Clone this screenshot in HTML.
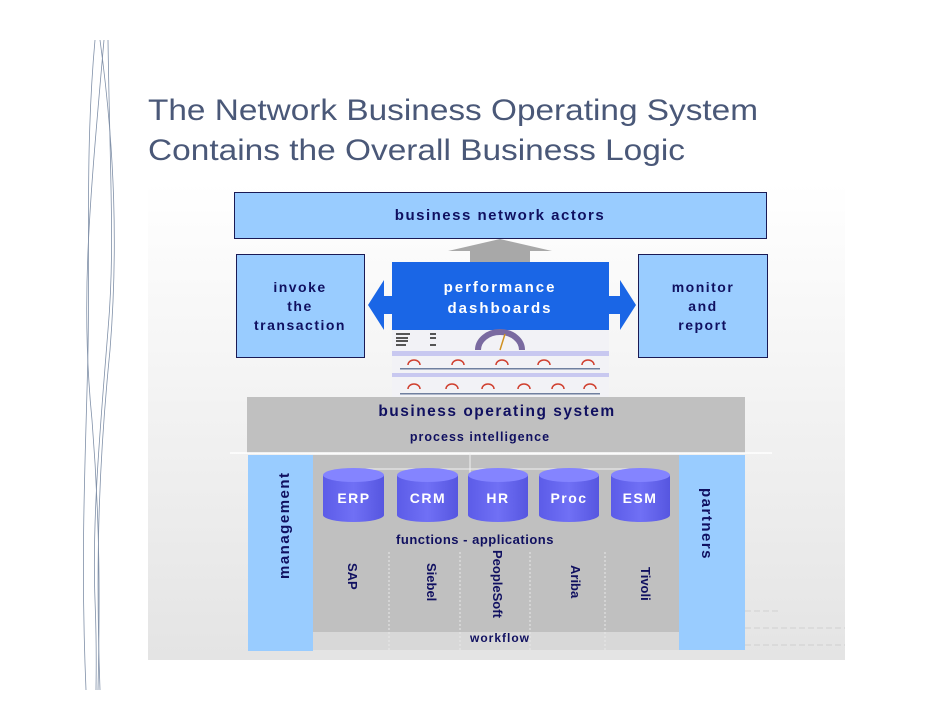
<!DOCTYPE html>
<html><head><meta charset="utf-8"><style>
html,body{margin:0;padding:0;background:#fff;}
svg{display:block;font-family:"Liberation Sans",sans-serif;}
</style></head><body>
<svg width="942" height="728" viewBox="0 0 942 728" xmlns="http://www.w3.org/2000/svg">
<defs>
<linearGradient id="bg" x1="0" y1="0" x2="0" y2="1">
<stop offset="0" stop-color="#ffffff"/><stop offset="1" stop-color="#e4e4e4"/></linearGradient>
<linearGradient id="cyl" x1="0" y1="0" x2="1" y2="0">
<stop offset="0" stop-color="#5c5ce8"/><stop offset="0.5" stop-color="#7070f5"/><stop offset="1" stop-color="#5656e0"/></linearGradient>
</defs>
<!-- decorative lines -->
<g fill="none" stroke="#8090a8" stroke-width="0.8">
<path d="M95 40 C85 150,90 250,88 350 C86 450,80 550,86 690"/>
<path d="M100 40 C115 150,118 250,110 350 C100 450,95 550,100 690"/>
<path d="M104 40 C90 200,80 300,92 420 C100 520,100 600,98 690"/>
<path d="M108 40 C110 180,115 250,108 330 C100 430,92 520,95 600 C97 650,96 680,96 690"/>
</g>
<!-- title -->
<g fill="#4a5878" font-size="30">
<text x="148" y="120" textLength="610" lengthAdjust="spacingAndGlyphs">The Network Business Operating System</text>
<text x="148" y="160" textLength="537" lengthAdjust="spacingAndGlyphs">Contains the Overall Business Logic</text>
</g>
<rect x="148" y="183" width="697" height="477" fill="url(#bg)"/>
<!-- top box -->
<rect x="234.5" y="192.5" width="532" height="46" fill="#99ccff" stroke="#1a1a55"/>
<text x="500" y="220" text-anchor="middle" font-size="15" font-weight="bold" fill="#101060" letter-spacing="1.5">business network actors</text>
<!-- gray arrow -->
<polygon points="448,251 500,239 552,251 530,251 530,263 470,263 470,251" fill="#a8a8a8"/>
<!-- side boxes -->
<rect x="236.5" y="254.5" width="128" height="103" fill="#99ccff" stroke="#1a1a55"/>
<g font-size="14" font-weight="bold" fill="#101060" text-anchor="middle" letter-spacing="1.5">
<text x="300" y="292">invoke</text><text x="300" y="311">the</text><text x="300" y="330">transaction</text>
</g>
<rect x="638.5" y="254.5" width="129" height="103" fill="#99ccff" stroke="#1a1a55"/>
<g font-size="14" font-weight="bold" fill="#101060" text-anchor="middle" letter-spacing="1.5">
<text x="703" y="292">monitor</text><text x="703" y="311">and</text><text x="703" y="330">report</text>
</g>
<!-- blue double arrow -->
<polygon points="368,305 384,280 384,296 392,296 392,262 609,262 609,296 620,296 620,280 636,305 620,330 620,314 609,314 609,330 392,330 392,314 384,314 384,330" fill="#1a66e6"/>
<g font-size="15" font-weight="bold" fill="#ffffff" text-anchor="middle" letter-spacing="2">
<text x="500" y="292">performance</text><text x="500" y="313">dashboards</text>
</g>
<!-- dashboard screenshot -->
<rect x="392" y="330" width="217" height="68" fill="#f2f2f6"/>
<rect x="392" y="351" width="217" height="5" fill="#c8c8f0"/>
<rect x="392" y="373" width="217" height="4" fill="#c8c8f0"/>
<g fill="#444" font-size="3">
<rect x="396" y="333" width="14" height="2" fill="#555"/><rect x="396" y="337" width="12" height="2" fill="#555"/><rect x="396" y="340" width="12" height="2" fill="#555"/><rect x="396" y="344" width="10" height="2" fill="#555"/>
<rect x="430" y="333" width="6" height="2" fill="#555"/><rect x="430" y="337" width="6" height="2" fill="#555"/><rect x="430" y="344" width="6" height="2" fill="#555"/>
</g>
<path d="M478 350 A22 18 0 0 1 522 350" fill="none" stroke="#7a6aa0" stroke-width="6"/>
<line x1="500" y1="350" x2="505" y2="334" stroke="#d09020" stroke-width="1.5"/>
<g fill="none" stroke-width="1.5">
<path d="M452 365 a6 5 0 0 1 12 0" stroke="#d04030"/><path d="M496 365 a6 5 0 0 1 12 0" stroke="#d04030"/><path d="M538 365 a6 5 0 0 1 12 0" stroke="#d04030"/><path d="M582 365 a6 5 0 0 1 12 0" stroke="#d04030"/><path d="M408 365 a6 5 0 0 1 12 0" stroke="#d04030"/>
<path d="M408 389 a6 5 0 0 1 12 0" stroke="#d04030"/><path d="M446 389 a6 5 0 0 1 12 0" stroke="#d04030"/><path d="M482 389 a6 5 0 0 1 12 0" stroke="#d04030"/><path d="M518 389 a6 5 0 0 1 12 0" stroke="#d04030"/><path d="M552 389 a6 5 0 0 1 12 0" stroke="#d04030"/><path d="M584 389 a6 5 0 0 1 12 0" stroke="#d04030"/>
</g>
<g fill="#7080a0"><rect x="400" y="368" width="200" height="1.5"/><rect x="400" y="393" width="200" height="1.5"/></g>
<!-- business operating system -->
<rect x="247" y="397" width="498" height="56" fill="#c0c0c0"/>
<text x="497" y="416" text-anchor="middle" font-size="15.5" font-weight="bold" fill="#101060" letter-spacing="1.5">business operating system</text>
<text x="480" y="441" text-anchor="middle" font-size="12.5" font-weight="bold" fill="#101060" letter-spacing="1">process intelligence</text>
<line x1="230" y1="453" x2="772" y2="453" stroke="#ffffff" stroke-width="1.5"/>
<!-- columns -->
<rect x="248" y="455" width="65" height="196" fill="#99ccff"/>
<rect x="679" y="455" width="66" height="195" fill="#99ccff"/>
<rect x="313" y="455" width="366" height="177" fill="#c0c0c0"/>
<rect x="313" y="632" width="366" height="18" fill="#d8d8d8"/>
<g stroke="#e8e8e8" stroke-dasharray="2,2" stroke-width="1">
<line x1="389" y1="552" x2="389" y2="650"/><line x1="460" y1="552" x2="460" y2="650"/><line x1="530" y1="552" x2="530" y2="650"/><line x1="605" y1="552" x2="605" y2="650"/>
</g>
<!-- connector -->
<g stroke="#f0f0f0" stroke-width="1" fill="none">
<line x1="354" y1="469" x2="640" y2="469"/>
<line x1="470" y1="453" x2="470" y2="480"/>
<line x1="354" y1="469" x2="354" y2="480"/><line x1="427" y1="469" x2="427" y2="480"/><line x1="569" y1="469" x2="569" y2="480"/><line x1="640" y1="469" x2="640" y2="480"/>
</g>
<!-- cylinders -->
<g>
<path d="M323 475 v40 a30.5 7 0 0 0 61 0 v-40 z" fill="url(#cyl)"/><ellipse cx="353.5" cy="475" rx="30.5" ry="7" fill="#8484ff"/>
<path d="M397 475 v40 a30.5 7 0 0 0 61 0 v-40 z" fill="url(#cyl)"/><ellipse cx="427.5" cy="475" rx="30.5" ry="7" fill="#8484ff"/>
<path d="M468 475 v40 a30 7 0 0 0 60 0 v-40 z" fill="url(#cyl)"/><ellipse cx="498" cy="475" rx="30" ry="7" fill="#8484ff"/>
<path d="M539 475 v40 a30 7 0 0 0 60 0 v-40 z" fill="url(#cyl)"/><ellipse cx="569" cy="475" rx="30" ry="7" fill="#8484ff"/>
<path d="M611 475 v40 a29.5 7 0 0 0 59 0 v-40 z" fill="url(#cyl)"/><ellipse cx="640.5" cy="475" rx="29.5" ry="7" fill="#8484ff"/>
</g>
<g font-size="14" font-weight="bold" fill="#ffffff" text-anchor="middle" letter-spacing="1.5">
<text x="354" y="503">ERP</text><text x="428" y="503">CRM</text><text x="498" y="503">HR</text><text x="569" y="503">Proc</text><text x="640" y="503">ESM</text>
</g>
<text x="475" y="544" text-anchor="middle" font-size="13" font-weight="bold" fill="#101060" letter-spacing="0.5">functions - applications</text>
<text x="500" y="642" text-anchor="middle" font-size="12" font-weight="bold" fill="#101060" letter-spacing="1">workflow</text>
<!-- vertical labels -->
<g font-size="13" font-weight="bold" fill="#101060">
<text transform="translate(348,563) rotate(90)">SAP</text>
<text transform="translate(427,563) rotate(90)">Siebel</text>
<text transform="translate(493,550) rotate(90)">PeopleSoft</text>
<text transform="translate(571,565) rotate(90)">Ariba</text>
<text transform="translate(641,567) rotate(90)">Tivoli</text>
</g>
<text transform="translate(289,579) rotate(-90)" font-size="15" font-weight="bold" fill="#101060" letter-spacing="1.5">management</text>
<text transform="translate(702,488) rotate(90)" font-size="15" font-weight="bold" fill="#101060" letter-spacing="1.5">partners</text>
<!-- faint right marks -->
<g stroke="#d0d0d0" stroke-dasharray="6,3"><line x1="745" y1="611" x2="780" y2="611"/><line x1="745" y1="628" x2="845" y2="628"/><line x1="745" y1="645" x2="845" y2="645"/></g>
</svg>
</body></html>
